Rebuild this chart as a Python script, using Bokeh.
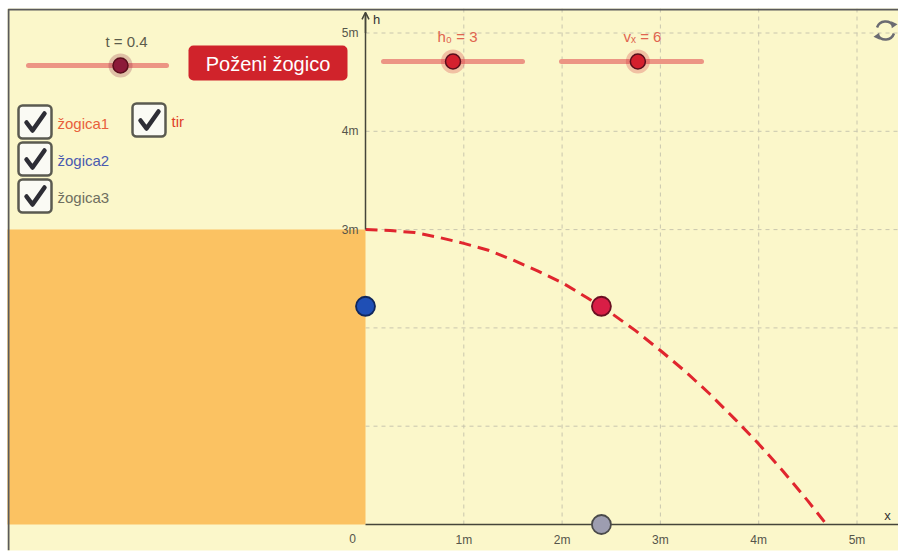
from bokeh.plotting import figure
from bokeh.models import Range1d, LinearAxis, FixedTicker, Arrow, OpenHead, ColumnDataSource
from bokeh.embed import file_html
from bokeh.resources import INLINE
from bokeh.core.properties import value

# ---------------- data ----------------
t_val = 0.4
h0 = 3
vx = 6
x_ticks = [0, 1, 2, 3, 4, 5]
x_tick_labels = ["0", "1m", "2m", "3m", "4m", "5m"]
y_ticks = [3, 4, 5]
y_tick_labels = ["3m", "4m", "5m"]
grid_x = [1, 2, 3, 4, 5]
grid_y = [1, 2, 3, 4, 5]
# trajectory ("tir")
path_x = [0.0, 0.25, 0.5, 0.75, 1.0, 1.25, 1.5, 1.75, 2.0, 2.25, 2.5, 2.75,
          3.0, 3.25, 3.5, 3.75, 4.0, 4.25, 4.5, 4.69]
path_y = [3.00, 2.99, 2.97, 2.92, 2.86, 2.79, 2.69, 2.58, 2.46, 2.31, 2.15, 1.97,
          1.77, 1.56, 1.33, 1.08, 0.82, 0.54, 0.24, 0.00]
ball_names = ["žogica1", "žogica2", "žogica3"]
ball_x = [2.4, 0.0, 2.4]
ball_y = [2.22, 2.22, 0.0]
ball_fill = ["#D91E46", "#1F4FB5", "#9D9DB0"]
ball_line = ["#6A0F22", "#10275C", "#4A4A4A"]
slider_labels = ["t = 0.4", "h₀ = 3", "vₓ = 6"]
slider_values = [t_val, h0, vx]
slider_min = [0, 0, 0]
slider_max = [0.6, 6, 11]
checkbox_labels = ["žogica1", "tir", "žogica2", "žogica3"]
checkbox_colors = ["#E8603C", "#E0402A", "#4A5BB0", "#6F6F60"]
button_label = "Poženi žogico"
axis_names = ["h", "x"]

# ---------------- layout ----------------
W, H = 898, 553
PX_L, PX_R, PX_T, PX_B = 7, 898, 8, 550
X0, Y0, S = 365, 524, 98.3
FONT_NAME = "Liberation Sans"
FONT = value(FONT_NAME)

p = figure(width=W, height=H, output_backend="svg", toolbar_location=None,
           x_range=Range1d((PX_L - X0) / S, (PX_R - X0) / S),
           y_range=Range1d((Y0 - PX_B) / S, (Y0 - PX_T) / S),
           x_axis_type=None, y_axis_type=None,
           min_border_left=PX_L, min_border_top=PX_T,
           min_border_right=W - PX_R, min_border_bottom=H - PX_B)
p.extra_x_ranges = {"px": Range1d(PX_L, PX_R)}
p.extra_y_ranges = {"px": Range1d(PX_B, PX_T)}
p.background_fill_color = "#FBF7CA"
p.border_fill_color = "white"
p.outline_line_color = None
PX = dict(x_range_name="px", y_range_name="px")

# grid
p.segment(x0=grid_x, y0=[0] * len(grid_x), x1=grid_x, y1=[5.3] * len(grid_x),
          line_color="#C9C6AE", line_width=1, line_dash="4 4")
p.segment(x0=[0] * len(grid_y), y0=grid_y, x1=[5.5] * len(grid_y), y1=grid_y,
          line_color="#C9C6AE", line_width=1, line_dash="4 4")

# axes
axis_style = dict(axis_line_color="#45453A", axis_line_width=1.5,
                  major_tick_line_color=None, minor_tick_line_color=None,
                  major_tick_in=0, major_tick_out=0, minor_tick_in=0, minor_tick_out=0,
                  major_label_text_font=FONT_NAME, major_label_text_font_size="12px",
                  major_label_text_color="#55554A")
xax = LinearAxis(fixed_location=0, bounds=(0, 5.42), ticker=FixedTicker(ticks=x_ticks),
                 major_label_overrides={t: ("" if t == 0 else l) for t, l in zip(x_ticks, x_tick_labels)},
                 major_label_standoff=8, **axis_style)
p.add_layout(xax, "below")
yax = LinearAxis(fixed_location=0, bounds=(3, 5.2), ticker=FixedTicker(ticks=y_ticks),
                 major_label_overrides={t: l for t, l in zip(y_ticks, y_tick_labels)},
                 major_label_standoff=7, **axis_style)
p.add_layout(yax, "left")
p.add_layout(Arrow(end=OpenHead(size=7, line_color="#45453A", line_width=1.5),
                   x_start=0, y_start=5.0, x_end=0, y_end=5.21,
                   line_color="#45453A", line_width=1.5))

# orange block (height h0)
p.quad(left=-4, right=0, bottom=0, top=h0, fill_color="#FBC262", line_color=None)

# trajectory
p.line(path_x, path_y, line_color="#E0262E", line_width=3, line_dash="12 7")

# balls
bsrc = ColumnDataSource(dict(x=ball_x, y=ball_y, f=ball_fill, l=ball_line, n=ball_names))
p.scatter("x", "y", source=bsrc, size=19, fill_color="f", line_color="l",
          line_width=1.8, level="annotation")

# tick label "0" and axis names
p.text(x=[352], y=[538], text=[x_tick_labels[0]], text_font=FONT, text_font_size="12px",
       text_color="#55554A", text_align="center", text_baseline="middle", **PX)
p.text(x=[376, 887], y=[19, 515], text=axis_names, text_font=FONT, text_font_size="13px",
       text_color="#333333", text_align="center", text_baseline="middle", **PX)

# sliders
tr_x0 = [28, 383, 561]
tr_x1 = [166, 522, 701]
tr_y = [65, 61, 61]
knob_x = [a + (v - lo) / (hi - lo) * (b - a)
          for a, b, v, lo, hi in zip(tr_x0, tr_x1, slider_values, slider_min, slider_max)]
p.segment(x0=tr_x0, y0=tr_y, x1=tr_x1, y1=tr_y, line_color="#EC9584",
          line_width=5, line_cap="round", **PX)
knob_col = ["#8C1A3A", "#D4202E", "#D4202E"]
p.scatter(knob_x, tr_y, size=24, fill_color=knob_col, fill_alpha=0.25, line_color=None, **PX)
p.scatter(knob_x, tr_y, size=15, fill_color=knob_col, line_color="#5A0E1C",
          line_width=1.5, **PX)
lab_x = [126, 457, 642]
lab_y = [41, 36, 36]
p.text(x=lab_x, y=lab_y, text=slider_labels, text_font=FONT, text_font_size="15px",
       text_color=["#5C5C4C", "#E0644F", "#E0644F"], text_align="center",
       text_baseline="middle", **PX)

# button
p.quad(left=[188], right=[347], top=[45], bottom=[80], fill_color="#D0232B",
       line_color=None, border_radius=5, **PX)
p.text(x=[267.5], y=[63], text=[button_label], text_font=FONT, text_font_size="20px",
       text_color="white", text_align="center", text_baseline="middle", **PX)

# checkboxes
cb_x = [18, 132, 18, 18]
cb_y = [105, 103, 142, 179]
CB = 33
p.quad(left=cb_x, right=[x + CB for x in cb_x], top=cb_y, bottom=[y + CB for y in cb_y],
       fill_color="#FAFAF4", line_color="#5A5A50", line_width=2.5, border_radius=4, **PX)
p.multi_line(xs=[[x + 8, x + 14, x + 26] for x in cb_x],
             ys=[[y + 17, y + 25, y + 8] for y in cb_y],
             line_color="#2D2D35", line_width=4.5, line_join="round", line_cap="round", **PX)
p.text(x=[x + CB + 6 for x in cb_x], y=[y + CB / 2 + 1 for y in cb_y], text=checkbox_labels,
       text_font=FONT, text_font_size="15px", text_color=checkbox_colors,
       text_align="left", text_baseline="middle", **PX)

# reload icon
ic_x, ic_y = (885 - X0) / S, (Y0 - 30) / S
p.arc(x=[ic_x, ic_x], y=[ic_y, ic_y], radius=9, radius_units="screen",
      start_angle=[0.5, 3.64], end_angle=[2.8, 5.94], line_color="#6B6B72", line_width=2.5)
p.scatter(x=[885 + 8, 885 - 8], y=[30 - 6, 30 + 6], marker="triangle", size=7,
          angle=[0.6, 3.74], fill_color="#6B6B72", line_color=None, **PX)

# frame border (left and top)
p.line(x=[8, 8, 898], y=[550, 9, 9], line_color="#5A5A5A", line_width=2, **PX)

open("out.html", "w").write(file_html(p, INLINE))
